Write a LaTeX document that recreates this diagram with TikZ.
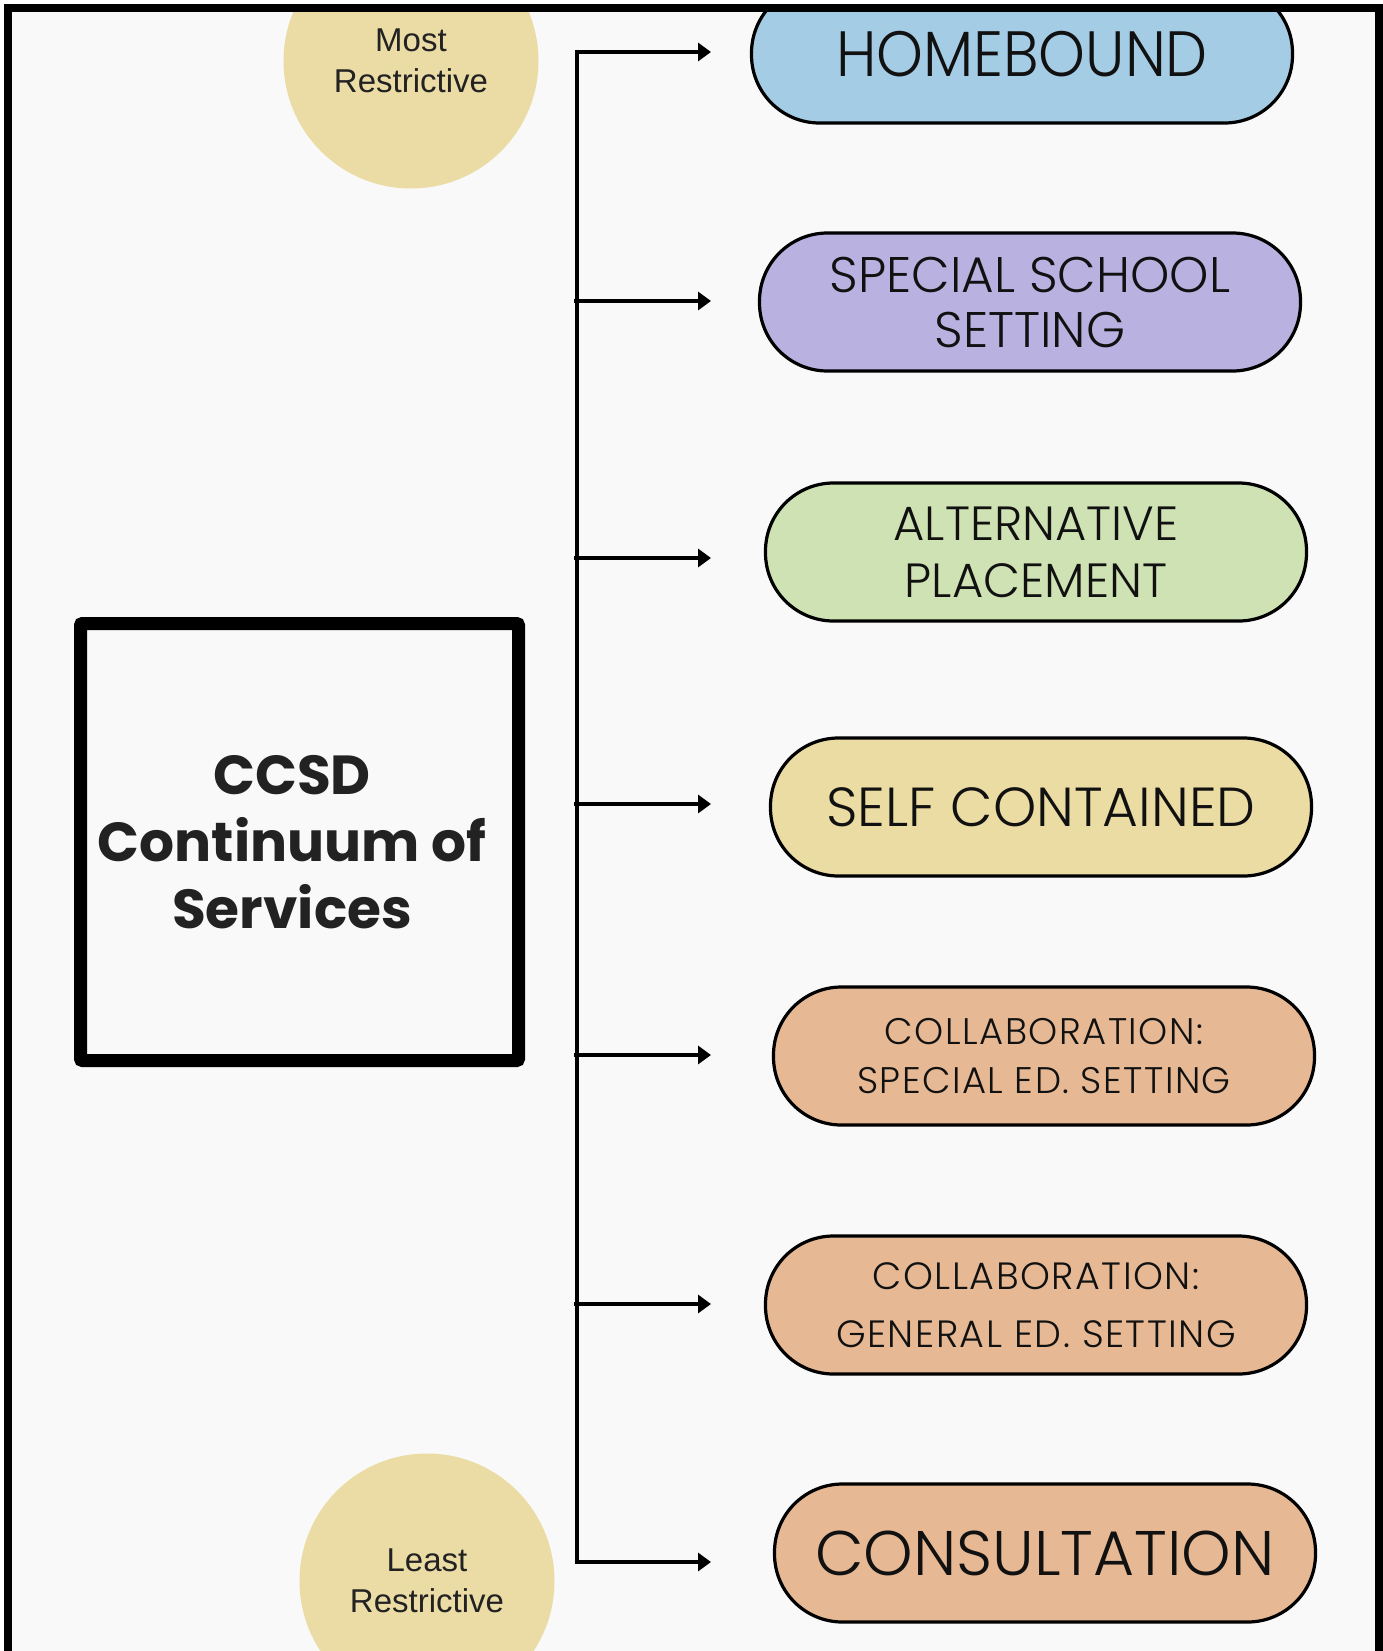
\documentclass[tikz,border=0pt]{standalone}
\usepackage{fontspec}
\usetikzlibrary{arrows.meta}
\IfFontExistsTF{Poppins Light}{\def\pillface{Poppins Light}}{\def\pillface{Poppins}}
\newfontfamily\pillfont{\pillface}
\newfontfamily\pillnarrow{\pillface}[FakeStretch=0.93]
\newfontfamily\pillwide{\pillface}[LetterSpace=4]
\newfontfamily\titlefont{Poppins}
\newfontfamily\notefont{Liberation Sans}

\definecolor{paper}{HTML}{F9F9F9}
\definecolor{hbblue}{HTML}{A5CCE5}
\definecolor{sspurple}{HTML}{B9B2E1}
\definecolor{apgreen}{HTML}{CFE2B4}
\definecolor{scyellow}{HTML}{EBDCA3}
\definecolor{cpeach}{HTML}{E6B994}
\definecolor{badge}{HTML}{EBDCA6}
\definecolor{ink}{HTML}{111111}
\definecolor{softink}{HTML}{222222}

\tikzset{
  pill/.style={draw=black, line width=3.2pt, rectangle, rounded corners=68pt,
    minimum width=541pt, minimum height=138pt, inner sep=0pt, align=center,
    text=ink, font=\pillfont},
  badgecircle/.style={circle, fill=badge, minimum size=255pt, inner sep=0pt,
    align=center, text=softink, font=\notefont\fontsize{33}{41}\selectfont},
  conn/.style={line width=4pt, draw=black, line join=miter},
  tip/.style={-{Triangle[length=13pt,width=18pt]}},
}

\begin{document}
\begin{tikzpicture}[x=1pt,y=-1pt]
\useasboundingbox (0,0) rectangle (1383,1651);
\fill[white] (0,0) rectangle (1383,1651);

\begin{scope}
  \clip (8,8) rectangle (1379,1700);
  \fill[paper] (8,8) rectangle (1379,1700);

  % level badges
  \node[badgecircle] (most) at (411,61) {Most\\Restrictive};
  \node[badgecircle] (least) at (427,1581) {Least\\Restrictive};

  % placement options
  \node[pill, fill=hbblue, font=\pillnarrow\fontsize{64}{70}\selectfont]
    (p1) at (1022,54) {HOMEBOUND};
  \node[pill, fill=sspurple, font=\pillfont\fontsize{50}{55}\selectfont]
    (p2) at (1030,302) {SPECIAL SCHOOL\\SETTING};
  \node[pill, fill=apgreen, font=\pillfont\fontsize{48}{57}\selectfont]
    (p3) at (1036,552) {ALTERNATIVE\\PLACEMENT};
  \node[pill, fill=scyellow, font=\pillfont\fontsize{55}{60}\selectfont]
    (p4) at (1041,807) {SELF CONTAINED};
  \node[pill, fill=cpeach, font=\pillwide\fontsize{37}{49}\selectfont]
    (p5) at (1044,1056) {COLLABORATION:\\SPECIAL ED. SETTING};
  \node[pill, fill=cpeach, font=\pillwide\fontsize{38}{58}\selectfont]
    (p6) at (1036,1305) {COLLABORATION:\\GENERAL ED. SETTING};
  \node[pill, fill=cpeach, font=\pillfont\fontsize{63}{70}\selectfont]
    (p7) at (1045,1553) {CONSULTATION};

  % title box
  \node[draw=black, line width=13pt, rounded corners=2pt, minimum width=438pt,
    minimum height=437pt, inner sep=0pt] (box) at (299.5,842) {};
  \node[align=center, text=softink,
    font=\titlefont\bfseries\fontsize{55}{67}\selectfont]
    (title) at (292,842) {CCSD\\Continuum of\\Services};

  % spine and branch arrows
  \foreach \i/\y in {1/52,2/301,3/558,4/804,5/1055,6/1304,7/1562}{
    \coordinate (s\i) at (577,\y);
    \coordinate (t\i) at (711,\y);
  }
  \draw[conn, {Triangle[length=13pt,width=18pt]}-{Triangle[length=13pt,width=18pt]}]
    (t1) -- (s1) -- (s7) -- (t7);
  \foreach \i in {2,...,6}{
    \draw[conn, tip] ([xshift=-3pt]s\i) -- (t\i);
  }
\end{scope}

% outer frame
\draw[line width=8pt] (8,8) rectangle (1379,1700);
\end{tikzpicture}
\end{document}
